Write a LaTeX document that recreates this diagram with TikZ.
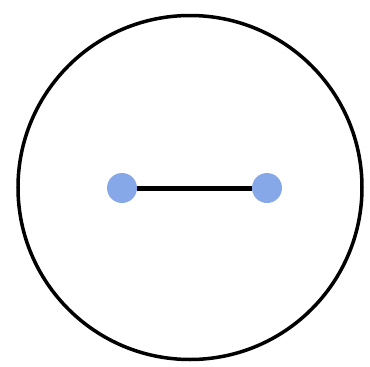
\documentclass[tikz,border=0pt]{standalone}
\definecolor{dotblue}{HTML}{86A8E8}
\begin{document}
\begin{tikzpicture}[x=1pt,y=-1pt,
  dot/.style={circle,fill=dotblue,inner sep=0pt,minimum size=30pt}]
\useasboundingbox (0,0) rectangle (370,367);
\node[draw,circle,line width=3.5pt,minimum size=344pt,inner sep=0pt] (outer) at (190,187.5) {};
\node[dot] (a) at (122,188) {};
\node[dot] (b) at (267,188) {};
\draw[line width=5pt] (a) -- (b);
\end{tikzpicture}
\end{document}
